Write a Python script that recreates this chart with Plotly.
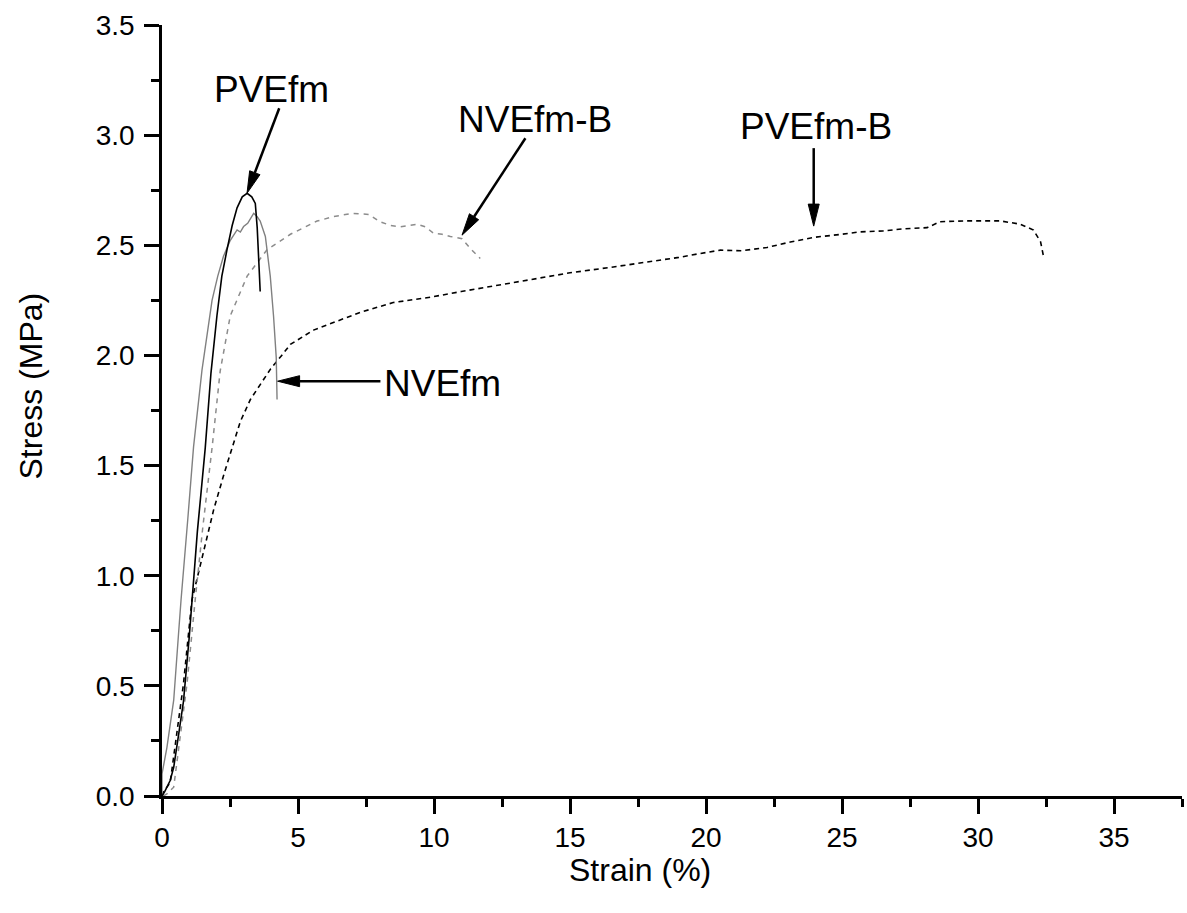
import plotly.graph_objects as go

# ---------------- data ----------------
pvefm_x = [0, 0.1, 0.3, 0.43, 0.6, 0.79, 1.0, 1.1, 1.3, 1.59, 1.8, 2.02, 2.2, 2.39, 2.58, 2.76, 2.95, 3.13, 3.3, 3.43, 3.5, 3.55, 3.61]
pvefm_y = [0, 0.02, 0.07, 0.13, 0.27, 0.43, 0.72, 0.89, 1.2, 1.58, 1.92, 2.18, 2.36, 2.48, 2.59, 2.67, 2.72, 2.736, 2.72, 2.69, 2.58, 2.45, 2.29]

nvefm_x = [0, 0.0, 0.18, 0.43, 0.61, 0.7, 0.95, 1.16, 1.47, 1.84, 2.05, 2.26, 2.5, 2.65, 2.76, 2.88, 3.0, 3.15, 3.25, 3.37, 3.5, 3.61, 3.8, 3.98, 4.1, 4.2, 4.23]
nvefm_y = [0, 0.1, 0.22, 0.435, 0.74, 0.89, 1.26, 1.585, 1.933, 2.25, 2.36, 2.45, 2.52, 2.55, 2.57, 2.56, 2.585, 2.6, 2.62, 2.645, 2.63, 2.61, 2.54, 2.36, 2.18, 1.99, 1.80]

nvefmb_x = [0.05, 0.18, 0.43, 0.67, 0.92, 1.22, 1.5, 1.84, 2.14, 2.51, 3.13, 3.86, 4.72, 5.7, 6.3, 7.0, 7.6, 8.02, 8.4, 8.76, 9.1, 9.38, 9.68, 9.99, 10.3, 10.6, 11.03, 11.33, 11.7]
nvefmb_y = [0, 0.01, 0.04, 0.28, 0.51, 0.89, 1.22, 1.58, 1.93, 2.18, 2.36, 2.48, 2.55, 2.61, 2.63, 2.645, 2.64, 2.607, 2.59, 2.584, 2.59, 2.596, 2.584, 2.554, 2.55, 2.54, 2.53, 2.486, 2.44]

pvefmb_x = [0, 0.06, 0.3, 0.55, 0.79, 1.1, 1.5, 1.9, 2.3, 2.63, 2.88, 3.25, 3.61, 4.0, 4.4, 4.72, 5.57, 6.5, 7.3, 8.5, 9.9, 11.0, 12.4, 13.5, 15.0, 16.5, 17.6, 19.0, 19.8, 20.53, 21.3, 22.24, 23.1, 23.96, 25.0, 25.67, 26.5, 27.3, 28.13, 28.6, 29.6, 30.8, 31.55, 32.04, 32.3, 32.4]
pvefmb_y = [0, 0.02, 0.06, 0.28, 0.51, 0.89, 1.1, 1.3, 1.47, 1.6, 1.70, 1.80, 1.87, 1.94, 2.0, 2.05, 2.115, 2.16, 2.196, 2.24, 2.265, 2.29, 2.32, 2.345, 2.375, 2.40, 2.42, 2.445, 2.463, 2.478, 2.475, 2.49, 2.515, 2.536, 2.55, 2.561, 2.565, 2.575, 2.58, 2.607, 2.611, 2.611, 2.596, 2.569, 2.516, 2.455]

x_range = [0, 37.5]
y_range = [0, 3.5]

# label texts, label centres and arrows (tip -> tail), in data units
labels = ["PVEfm", "NVEfm-B", "PVEfm-B", "NVEfm"]
label_x = [4.04, 13.73, 24.04, 10.32]
label_y = [3.209, 3.071, 3.041, 1.874]
tip_x = [3.125, 11.03, 23.96, 4.25]
tip_y = [2.736, 2.546, 2.587, 1.883]
tail_x = [4.31, 13.36, 23.96, 8.03]
tail_y = [3.122, 2.986, 2.941, 1.883]

FONT = "Liberation Sans, Arial, Helvetica, sans-serif"

# ---------------- figure ----------------
W, H = 1187, 913
ML, MR, MT, MB = 162, 5, 25, 117
PW, PH = W - ML - MR, H - MT - MB
sx = PW / (x_range[1] - x_range[0])
sy = PH / (y_range[1] - y_range[0])

fig = go.Figure()
fig.add_trace(go.Scatter(x=pvefmb_x, y=pvefmb_y, mode="lines",
                         line=dict(color="black", width=1.6, dash="5px,4px"), name="PVEfm-B"))
fig.add_trace(go.Scatter(x=nvefmb_x, y=nvefmb_y, mode="lines",
                         line=dict(color="#8c8c8c", width=1.5, dash="5px,5px"), name="NVEfm-B"))
fig.add_trace(go.Scatter(x=nvefm_x, y=nvefm_y, mode="lines",
                         line=dict(color="#808080", width=1.4), name="NVEfm"))
fig.add_trace(go.Scatter(x=pvefm_x, y=pvefm_y, mode="lines",
                         line=dict(color="black", width=1.6), name="PVEfm"))

annotations = []
shapes = []
for t, lx, ly in zip(labels, label_x, label_y):
    annotations.append(dict(x=lx, y=ly, xref="x", yref="y", text=t, showarrow=False,
                            xanchor="center", yanchor="middle",
                            font=dict(family=FONT, size=37, color="black")))

head_len, head_hw = 22.0, 5.5
for txp, typ, tlx, tly in zip(tip_x, tip_y, tail_x, tail_y):
    px_tip, py_tip = txp * sx, typ * sy
    px_tail, py_tail = tlx * sx, tly * sy
    dx, dy = px_tip - px_tail, py_tip - py_tail
    L = (dx * dx + dy * dy) ** 0.5
    ux, uy = dx / L, dy / L
    bx, by = px_tip - ux * head_len, py_tip - uy * head_len
    p1 = (bx - uy * head_hw, by + ux * head_hw)
    p2 = (bx + uy * head_hw, by - ux * head_hw)
    shapes.append(dict(type="line", xref="x", yref="y", x0=tlx, y0=tly,
                       x1=bx / sx, y1=by / sy, line=dict(color="black", width=2.5)))
    path = "M{},{} L{},{} L{},{} Z".format(txp, typ, p1[0] / sx, p1[1] / sy, p2[0] / sx, p2[1] / sy)
    shapes.append(dict(type="path", xref="x", yref="y", path=path,
                       fillcolor="black", line=dict(color="black", width=1)))

# axis titles
annotations.append(dict(x=(30 - ML) / PW, y=(MT + PH - 386.5) / PH, xref="paper", yref="paper",
                        text="Stress (MPa)", textangle=-90, showarrow=False,
                        xanchor="center", yanchor="middle",
                        font=dict(family=FONT, size=32, color="black")))
annotations.append(dict(x=(640 - ML) / PW, y=(MT + PH - 870) / PH, xref="paper", yref="paper",
                        text="Strain (%)", showarrow=False,
                        xanchor="center", yanchor="middle",
                        font=dict(family=FONT, size=32, color="black")))

axis_common = dict(showgrid=False, zeroline=False, showline=True, linecolor="black", linewidth=2.5,
                   ticks="outside", ticklen=15, tickwidth=2.5, tickcolor="black",
                   tickfont=dict(family=FONT, size=28, color="black"))

fig.update_layout(
    width=W, height=H,
    margin=dict(l=ML, r=MR, t=MT, b=MB, autoexpand=False),
    paper_bgcolor="white", plot_bgcolor="white",
    showlegend=False,
    annotations=annotations, shapes=shapes,
    xaxis=dict(range=x_range, tick0=0, dtick=5,
               minor=dict(ticks="outside", ticklen=8, tickwidth=2.5, tickcolor="black", dtick=2.5),
               **axis_common),
    yaxis=dict(range=y_range, tick0=0, dtick=0.5, tickformat=".1f", ticklabelstandoff=4,
               minor=dict(ticks="outside", ticklen=8, tickwidth=2.5, tickcolor="black", dtick=0.25),
               **axis_common),
)

fig.write_html("out.html", config={"displayModeBar": False},
               post_script="document.body.style.margin='0px';document.body.style.overflow='hidden';")
